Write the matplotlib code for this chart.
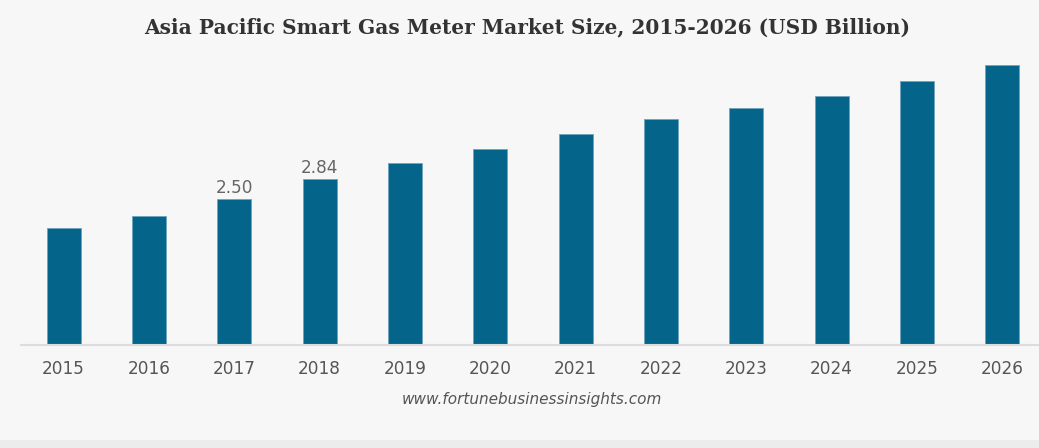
import matplotlib
matplotlib.use("Agg")
import matplotlib.pyplot as plt

years = ["2015", "2016", "2017", "2018", "2019", "2020", "2021", "2022", "2023", "2024", "2025", "2026"]
values = [2.00, 2.20, 2.50, 2.84, 3.11, 3.35, 3.61, 3.86, 4.05, 4.26, 4.51, 4.80]
labeled = {"2017": "2.50", "2018": "2.84"}

W, H = 1039, 448
fig = plt.figure(figsize=(W / 100, H / 100), dpi=100)
fig.patch.set_facecolor("#f7f7f7")

# bottom strip
fig.add_artist(plt.Rectangle((0, 0), 1, 8 / H, transform=fig.transFigure,
                             facecolor="#ececec", edgecolor="none"))

base_px = 345
top_px = 40
ax = fig.add_axes([21 / W, (H - base_px) / H, (W - 21) / W, (base_px - top_px) / H])
ax.set_facecolor("#f7f7f7")

x = list(range(len(years)))
ax.bar(x, values, width=0.40, color="#056489", edgecolor="#6fa3bd", linewidth=0.6, zorder=2)

ax.set_xlim(-0.5, 11.43)
ax.set_ylim(0, (base_px - top_px) / 58.43)

for i, (yr, v) in enumerate(zip(years, values)):
    if yr in labeled:
        ax.text(i, v + 0.04, labeled[yr], ha="center", va="bottom",
                fontsize=12.2, color="#666666", family="DejaVu Sans")

ax.set_xticks(x)
ax.set_xticklabels(years, fontsize=12.2, color="#555555", family="DejaVu Sans")
ax.tick_params(axis="x", length=0, pad=11)
ax.set_yticks([])
for s in ["top", "right", "left"]:
    ax.spines[s].set_visible(False)
ax.spines["bottom"].set_color("#dcdcdc")
ax.spines["bottom"].set_linewidth(1.5)

fig.text(527 / W, 1 - 27 / H, "Asia Pacific Smart Gas Meter Market Size, 2015-2026 (USD Billion)",
         ha="center", va="center", fontsize=14.5, fontweight="bold", color="#333333",
         family="DejaVu Serif")
fig.text(532 / W, 1 - 399 / H, "www.fortunebusinessinsights.com", ha="center", va="center",
         fontsize=11, style="italic", color="#555555", family="DejaVu Sans")

fig.savefig("out.png", dpi=100, facecolor=fig.get_facecolor())
